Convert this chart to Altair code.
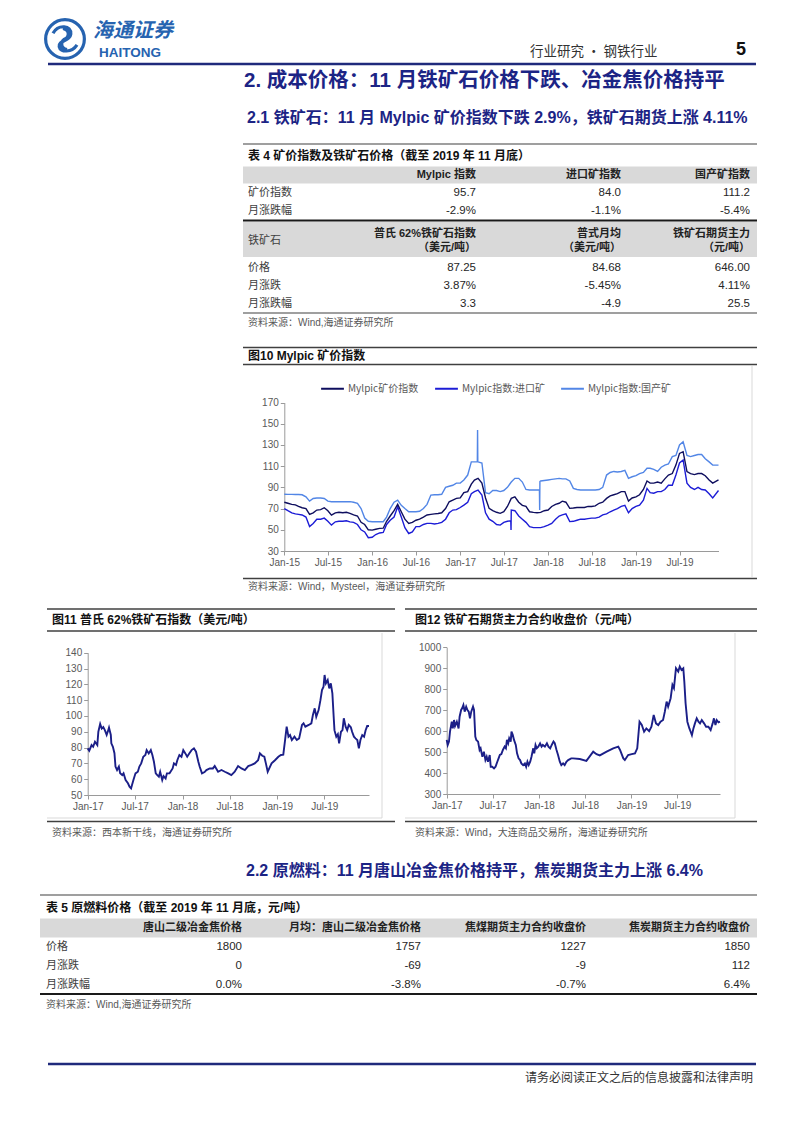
import altair as alt
import pandas as pd

# ---------------------------------------------------------------- data
t4_title = "表 4 矿价指数及铁矿石价格（截至 2019 年 11 月底）"
t4_head1 = ["Mylpic 指数", "进口矿指数", "国产矿指数"]
t4_rows1 = [("矿价指数", ["95.7", "84.0", "111.2"]),
            ("月涨跌幅", ["-2.9%", "-1.1%", "-5.4%"])]
t4_head2_label = "铁矿石"
t4_head2 = [("普氏 62%铁矿石指数", "（美元/吨）"), ("普式月均", "（美元/吨）"), ("铁矿石期货主力", "（元/吨）")]
t4_rows2 = [("价格", ["87.25", "84.68", "646.00"]),
            ("月涨跌", ["3.87%", "-5.45%", "4.11%"]),
            ("月涨跌幅", ["3.3", "-4.9", "25.5"])]

t5_title = "表 5 原燃料价格（截至 2019 年 11 月底，元/吨）"
t5_head = ["唐山二级冶金焦价格", "月均：唐山二级冶金焦价格", "焦煤期货主力合约收盘价", "焦炭期货主力合约收盘价"]
t5_rows = [("价格", ["1800", "1757", "1227", "1850"]),
           ("月涨跌", ["0", "-69", "-9", "112"]),
           ("月涨跌幅", ["0.0%", "-3.8%", "-0.7%", "6.4%"])]

series10 = ["Mylpic矿价指数", "Mylpic指数:进口矿", "Mylpic指数:国产矿"]
colors10 = ["#0e0e5e", "#1c1cd6", "#5286e6"]

# semi-monthly sampling dates (1st and 16th), then the last point
dates10 = [f"{y}-{m:02d}-{d:02d}" for y in range(2015, 2020) for m in range(1, 13) for d in (1, 16)]
dates10 = [d for d in dates10 if d <= "2019-11-16"] + ["2019-12-10"]

mylpic = [76, 75, 74, 73.5, 72, 70.8, 70, 64.5, 66, 68.6, 69, 70.8, 68, 63.8, 66, 66.5, 66, 66.5, 65.5, 64, 63, 57, 55, 50,
          49.7, 50.5, 51.3, 51.5, 58, 63, 68, 74, 67, 60, 56, 57, 59, 60, 62, 64, 64.5, 65, 65.4, 66, 70, 76.4, 78, 79.6,
          80, 85, 86, 93, 96.9, 98.5, 94, 80, 70.2, 68, 66.5, 65.5, 67, 72, 79.6, 81, 76, 73, 72, 67, 66.4, 66, 66.4, 68,
          68.6, 72, 74, 75, 77, 76, 70.2, 70.5, 71, 71, 71, 72, 72, 72.5, 75, 76, 79.6, 82, 83, 84, 86, 86, 77, 80,
          81, 83, 88, 96, 94, 94, 95, 94, 98, 101.6, 103, 111, 122, 123.6, 104.8, 103, 102, 103, 103, 101, 97, 94,
          97]
imported = [70, 68, 66, 65, 64.5, 64, 62, 53, 56, 60, 60, 61, 58, 54.4, 57.5, 58, 58, 58.5, 57.5, 57, 55, 50, 48, 42.5,
            43, 45.5, 47, 47.5, 55, 59, 62, 71.7, 62, 52, 46.5, 48, 53, 53, 55, 56, 56, 55.5, 56, 57, 60, 66, 68.6, 69,
            71, 73.3, 76, 84, 86, 87.5, 82.7, 66, 60, 58, 55, 54.4, 57, 58, 68.6, 68, 63, 60, 57, 53, 52, 52, 52, 53,
            54.4, 56, 60, 63, 64, 65, 57.7, 58, 59, 60, 60, 60.5, 61, 61, 62, 64, 65, 67, 68.6, 70, 72, 73, 66, 70,
            72, 73.3, 78, 89, 85, 84.5, 86, 86, 88, 92, 92, 101.6, 113, 115.8, 94, 90, 88, 90, 88, 87.5, 84, 80,
            87]
domestic = [83.5, 83.4, 83.4, 83.3, 83.2, 83, 81, 77, 79.5, 80, 80, 79.5, 77, 76.5, 76.5, 76.5, 76.5, 76.5, 76.5, 76, 75, 70, 61, 58,
            57.6, 57.6, 57.6, 57.6, 62, 70, 76, 78, 73, 70, 67, 67, 67, 67.5, 70, 74, 82.7, 83, 83, 83.5, 90, 91, 92, 94,
            94, 97, 101.6, 114, 114, 114, 113, 85, 84, 87, 87, 86, 87, 90, 95, 98.5, 98.5, 95, 88, 87.5, 87.5, 87.5, 96, 96.5,
            97, 97.5, 98, 98.5, 98, 98, 96, 89, 88, 87.5, 87.5, 87.5, 87.5, 87.5, 88, 90, 101.6, 104, 105, 104.5, 105, 106, 98.5, 100,
            101, 103, 104, 108, 108, 107, 105, 109, 111, 112, 119, 120, 130, 133, 120, 119, 120, 121, 121, 117, 114, 111,
            111]
# sharp one-day spikes
imported_spike_dates = ["2017-07-30", "2017-07-31"]
imported_spike_vals = [58.5, 49.8]
domestic_spike_dates = ["2017-03-13", "2017-03-14", "2017-03-15", "2017-11-26", "2017-11-27", "2017-11-28"]
domestic_spike_vals = [114, 144, 114, 87.5, 68.6, 95.5]

dates11 = ["2017-01-01", "2017-01-07", "2017-01-16", "2017-01-22", "2017-01-29", "2017-02-07", "2017-02-11", "2017-02-18",
           "2017-02-24", "2017-03-02", "2017-03-08", "2017-03-15", "2017-03-21", "2017-03-24", "2017-03-31", "2017-04-02",
           "2017-04-08", "2017-04-14", "2017-04-18", "2017-04-24", "2017-05-01", "2017-05-06", "2017-05-14", "2017-05-19",
           "2017-05-27", "2017-06-05", "2017-06-11", "2017-06-17", "2017-06-26", "2017-07-04", "2017-07-13", "2017-07-19",
           "2017-07-26", "2017-08-03", "2017-08-11", "2017-08-16", "2017-08-24", "2017-09-01", "2017-09-07", "2017-09-13",
           "2017-09-20", "2017-09-26", "2017-10-02", "2017-10-07", "2017-10-15", "2017-10-20", "2017-10-28", "2017-11-02",
           "2017-11-12", "2017-11-24", "2017-11-29", "2017-12-07", "2017-12-12", "2017-12-20", "2017-12-28", "2018-01-04",
           "2018-01-12", "2018-01-19", "2018-01-27", "2018-02-05", "2018-02-14", "2018-02-22", "2018-03-03", "2018-03-08",
           "2018-03-17", "2018-03-27", "2018-04-03", "2018-04-16", "2018-04-28", "2018-05-05", "2018-05-18", "2018-05-31",
           "2018-06-13", "2018-06-26", "2018-07-08", "2018-07-21", "2018-08-03", "2018-08-16", "2018-08-29", "2018-09-11",
           "2018-09-24", "2018-10-06", "2018-10-19", "2018-10-26", "2018-11-04", "2018-11-12", "2018-11-18", "2018-11-25",
           "2018-12-01", "2018-12-10", "2018-12-23", "2019-01-05", "2019-01-15", "2019-01-24", "2019-01-31", "2019-02-06",
           "2019-02-13", "2019-02-19", "2019-02-26", "2019-03-08", "2019-03-17", "2019-03-26", "2019-04-06", "2019-04-12",
           "2019-04-19", "2019-05-02", "2019-05-12", "2019-05-18", "2019-05-25", "2019-05-31", "2019-06-09", "2019-06-16",
           "2019-06-22", "2019-06-28", "2019-07-02", "2019-07-07", "2019-07-14", "2019-07-20", "2019-07-26", "2019-08-01",
           "2019-08-06", "2019-08-09", "2019-08-16", "2019-08-22", "2019-08-27", "2019-09-03", "2019-09-09", "2019-09-14",
           "2019-09-21", "2019-09-27", "2019-10-03", "2019-10-11", "2019-10-16", "2019-10-23", "2019-10-29", "2019-11-05",
           "2019-11-11", "2019-11-17", "2019-11-24", "2019-12-01", "2019-12-07", "2019-12-13", "2019-12-20"]
vals11 = [79.5, 78, 81.6, 80.5, 83.7, 81.6, 90, 94.9, 92, 93, 91, 88, 91, 92.6, 88, 82.7,
          80.5, 76.4, 68, 65.8, 68, 63.7, 62.6, 63.7, 59.5, 57.4, 55.3, 54.2, 59.5, 63.7, 64.7, 68,
          70, 74.2, 75.3, 78.4, 76.3, 78.4, 75.3, 71, 63.7, 62.6, 61.6, 64.7, 59.5, 62, 60.5, 63.7,
          63.7, 66.8, 70, 69, 72, 75.3, 74.2, 78.4, 76.3, 74.2, 76.3, 78.4, 79.5, 77.4, 71, 68,
          63.7, 64.5, 65.8, 66.8, 66.8, 68.3, 64.7, 65.8, 64.7, 63.7, 62.6, 64.7, 68.3, 66.8, 65.8, 68.3,
          69, 70, 72, 76.3, 74.8, 74.2, 70, 64.7, 66.8, 70, 72, 74.2, 75.3, 75.5, 84.8, 93.2,
          86.9, 87.9, 84.8, 86.9, 84.8, 85.8, 94.3, 95.3, 93.2, 94.3, 95.3, 100.6, 104.8, 99.5, 103.7, 110,
          116.4, 118.5, 125.9, 120.6, 122.7, 117.4, 120.6, 114.3, 99.5, 91, 86.9, 88.5, 82.7, 90, 91, 98.5,
          93.2, 91, 94.3, 92.8, 90, 86.9, 85.8, 84.8, 79.5, 84.8, 87.9, 86.9, 91, 93.6, 93.6]

dates12 = ["2017-01-01", "2017-01-05", "2017-01-10", "2017-01-14", "2017-01-21", "2017-01-25", "2017-01-30", "2017-02-03",
           "2017-02-10", "2017-02-17", "2017-02-21", "2017-02-27", "2017-03-03", "2017-03-08", "2017-03-13", "2017-03-19",
           "2017-03-24", "2017-03-29", "2017-04-03", "2017-04-08", "2017-04-15", "2017-04-19", "2017-04-24", "2017-04-28",
           "2017-05-05", "2017-05-11", "2017-05-15", "2017-05-22", "2017-05-28", "2017-06-03", "2017-06-08", "2017-06-13",
           "2017-06-20", "2017-06-24", "2017-06-30", "2017-07-07", "2017-07-13", "2017-07-20", "2017-07-25", "2017-07-30",
           "2017-08-05", "2017-08-11", "2017-08-18", "2017-08-23", "2017-08-27", "2017-09-01", "2017-09-05", "2017-09-11",
           "2017-09-14", "2017-09-19", "2017-09-24", "2017-10-01", "2017-10-06", "2017-10-12", "2017-10-18", "2017-10-23",
           "2017-10-30", "2017-11-06", "2017-11-11", "2017-11-16", "2017-11-21", "2017-11-27", "2017-12-02", "2017-12-09",
           "2017-12-13", "2017-12-18", "2017-12-23", "2017-12-29", "2018-01-05", "2018-01-11", "2018-01-16", "2018-01-24",
           "2018-02-01", "2018-02-07", "2018-02-14", "2018-02-20", "2018-02-27", "2018-03-04", "2018-03-11", "2018-03-17",
           "2018-03-24", "2018-03-30", "2018-04-06", "2018-04-12", "2018-04-19", "2018-04-26", "2018-05-08", "2018-05-15",
           "2018-06-11", "2018-07-07", "2018-08-03", "2018-08-16", "2018-08-29", "2018-09-25", "2018-10-21", "2018-11-10",
           "2018-11-17", "2018-11-30", "2018-12-06", "2018-12-19", "2019-01-02", "2019-01-15", "2019-01-24", "2019-02-02",
           "2019-02-11", "2019-02-20", "2019-03-01", "2019-03-12", "2019-03-21", "2019-03-30", "2019-04-08", "2019-04-17",
           "2019-04-26", "2019-05-06", "2019-05-13", "2019-05-20", "2019-05-26", "2019-06-05", "2019-06-12", "2019-06-18",
           "2019-06-26", "2019-07-05", "2019-07-11", "2019-07-18", "2019-07-25", "2019-07-29", "2019-08-03", "2019-08-10",
           "2019-08-18", "2019-08-23", "2019-08-28", "2019-09-03", "2019-09-09", "2019-09-16", "2019-09-23", "2019-09-29",
           "2019-10-06", "2019-10-15", "2019-10-23", "2019-11-01", "2019-11-10", "2019-11-18", "2019-11-23", "2019-11-29",
           "2019-12-04", "2019-12-11", "2019-12-17"]
vals12 = [558, 534, 550, 598, 645, 613, 653, 624, 645, 613, 669, 701, 709, 725, 693, 717,
          701, 693, 661, 693, 717, 701, 574, 558, 550, 510, 518, 478, 502, 462, 478, 454,
          486, 430, 430, 422, 430, 454, 470, 486, 490, 510, 526, 518, 558, 542, 566, 550,
          598, 582, 558, 534, 494, 470, 462, 446, 438, 446, 430, 454, 438, 454, 478, 518,
          494, 534, 518, 526, 542, 526, 534, 526, 542, 526, 518, 534, 550, 542, 510, 486,
          454, 438, 446, 438, 454, 462, 470, 470, 467, 458, 502, 490, 484, 502, 518, 526,
          510, 470, 462, 486, 490, 494, 518, 645, 629, 597, 613, 600, 621, 677, 637, 629,
          645, 653, 693, 741, 717, 757, 821, 805, 900, 884, 908, 892, 900, 836, 733, 645,
          613, 597, 581, 613, 637, 661, 645, 637, 653, 637, 621, 621, 605, 637, 661, 629,
          653, 642, 645]

# ---------------------------------------------------------------- layout helpers
W, H = 786, 1117
LAT = "Liberation Sans, Noto Sans CJK SC"
CJK = "Noto Sans CJK SC, Liberation Sans"
NAVY = "#1f2a7c"
HEAD = "#1c2485"
LOGO = "#2663b0"
TXT = "#333333"
SRC = "#595959"


def P(v):
    return v - 8


def xs():
    return alt.Scale(domain=[8, 8 + W], range=[0, W], nice=False, zero=False)


def ys():
    return alt.Scale(domain=[8, 8 + H], range=[0, H], nice=False, zero=False)


def text_layer(rows, align="left", size=11, weight="normal", color=TXT, font=LAT, style="normal"):
    df = pd.DataFrame(rows, columns=["x", "y", "t"])
    return alt.Chart(df).mark_text(align=align, baseline="middle", fontSize=size, fontWeight=weight,
                                   color=color, font=font, fontStyle=style).encode(
        x=alt.X("x:Q", scale=xs(), axis=None),
        y=alt.Y("y:Q", scale=ys(), axis=None),
        text=alt.Text("t:N"))


def rule_layer(rows, color, width):
    df = pd.DataFrame(rows, columns=["x", "y", "x2", "y2"])
    return alt.Chart(df).mark_rule(color=color, strokeWidth=width).encode(
        x=alt.X("x:Q", scale=xs(), axis=None), x2="x2:Q",
        y=alt.Y("y:Q", scale=ys(), axis=None), y2="y2:Q")


def rect_layer(rows, color):
    df = pd.DataFrame(rows, columns=["x", "y", "x2", "y2"])
    return alt.Chart(df).mark_rect(color=color).encode(
        x=alt.X("x:Q", scale=xs(), axis=None), x2="x2:Q",
        y=alt.Y("y:Q", scale=ys(), axis=None), y2="y2:Q")


AXS = dict(grid=False, title=None, domainColor="#9a9a9a", tickColor="#9a9a9a", tickSize=4,
           labelColor=SRC, labelFont="Liberation Sans", labelFontSize=10, domainWidth=1, tickWidth=1,
           labelPadding=2)


def dt(s):
    y, m, d = (int(p) for p in s.split("-"))
    return alt.DateTime(year=y, month=m, date=d)


def time_x(start, end, x0, x1, y_axis_px, first_year, last_year):
    ticks = [alt.DateTime(year=y, month=m, date=1) for y in range(first_year, last_year + 1) for m in (1, 7)]
    return alt.X("date:T",
                 scale=alt.Scale(domain=[dt(start), dt(end)], range=[P(x0), P(x1)], nice=False),
                 axis=alt.Axis(orient="bottom", offset=P(y_axis_px) - H, values=ticks, format="%b-%y",
                               labelFlush=False, labelOverlap=False, **AXS))


def value_y(lo, hi, step, ylo_px, yhi_px, x_axis_px):
    return alt.Y("value:Q",
                 scale=alt.Scale(domain=[lo, hi], range=[P(ylo_px), P(yhi_px)], nice=False, zero=False),
                 axis=alt.Axis(orient="left", offset=-P(x_axis_px), values=list(range(lo, hi + 1, step)),
                               format="d", labelOverlap=False, **AXS))


layers = []

# ---------------------------------------------------------------- figure 10 lines
frames = []
for name, vals in zip(series10, [mylpic, imported, domestic]):
    frames.append(pd.DataFrame({"date": pd.to_datetime(dates10), "value": vals, "series": name}))
frames.append(pd.DataFrame({"date": pd.to_datetime(imported_spike_dates), "value": imported_spike_vals, "series": series10[1]}))
frames.append(pd.DataFrame({"date": pd.to_datetime(domestic_spike_dates), "value": domestic_spike_vals, "series": series10[2]}))
df10 = pd.concat(frames).sort_values(["series", "date"])

fig10 = alt.Chart(df10).mark_line(strokeWidth=1.4).encode(
    x=time_x("2015-01-01", "2019-12-10", 284.3, 718.5, 551, 2015, 2019),
    y=value_y(30, 170, 20, 551, 402.5, 284.3),
    color=alt.Color("series:N", scale=alt.Scale(domain=series10, range=colors10),
                    legend=alt.Legend(orient="none", legendX=P(320), legendY=P(376), direction="horizontal",
                                      title=None, symbolType="stroke", symbolSize=520, symbolStrokeWidth=2,
                                      labelFont=CJK, labelFontSize=10, labelColor=SRC, columnPadding=12,
                                      labelOffset=3, padding=0)),
    detail="series:N")
layers.append(fig10)

df11 = pd.DataFrame({"date": pd.to_datetime(dates11), "value": vals11})
fig11 = alt.Chart(df11).mark_line(strokeWidth=1.9, color="#1b1f88").encode(
    x=time_x("2017-01-01", "2019-12-20", 87.7, 369, 795, 2017, 2019),
    y=value_y(50, 140, 10, 795, 652.7, 87.7))
layers.append(fig11)

df12 = pd.DataFrame({"date": pd.to_datetime(dates12), "value": vals12})
fig12 = alt.Chart(df12).mark_line(strokeWidth=1.9, color="#1b1f88").encode(
    x=time_x("2017-01-01", "2019-12-17", 446.7, 720, 794, 2017, 2019),
    y=value_y(300, 1000, 100, 794, 647.3, 446.7))
layers.append(fig12)

# ---------------------------------------------------------------- bands, rules, frames
layers.append(rect_layer([(243, 166.5, 757, 183.5), (243, 221.5, 757, 257), (40, 918.5, 757, 937.5)], "#d9d9d9"))

layers.append(rule_layer([(48, 64, 756, 64), (48, 1064, 756, 1064)], NAVY, 2.5))
layers.append(rule_layer([(243, 144, 757, 144), (243, 313, 757, 313), (40, 895, 757, 895)], "#7f7f7f", 1.5))
layers.append(rule_layer([(243, 220.5, 757, 220.5), (40, 994, 757, 994)], "#1a1a1a", 2))
layers.append(rule_layer([(243, 347.5, 757, 347.5), (243, 364.5, 757, 364.5), (243, 578.5, 757, 578.5),
                          (47, 609, 395, 609), (47, 631, 395, 631), (47, 821.5, 395, 821.5),
                          (405, 609, 757, 609), (405, 631, 757, 631), (405, 821.5, 757, 821.5)], "#404040", 1.3))
layers.append(rule_layer([(752, 366, 752, 577), (382, 633, 382, 818), (47, 818, 382, 818),
                          (735, 633, 735, 818), (405, 818, 735, 818)], "#d9d9d9", 1))

# ---------------------------------------------------------------- logo and header text
logo_path = ("M -1,0 A 1,1 0 1,1 1,0 A 1,1 0 1,1 -1,0 Z "
             "M -0.62,-0.30 C -0.35,-0.78 0.35,-0.72 0.30,-0.25 C 0.25,0.15 -0.35,0.05 -0.30,0.40 "
             "C -0.25,0.70 0.35,0.72 0.62,0.30 "
             "M -0.10,-0.55 C 0.30,-0.45 0.20,-0.05 -0.05,0.02 "
             "M 0.10,0.55 C -0.30,0.45 -0.20,0.05 0.05,-0.02")
layers.append(alt.Chart(pd.DataFrame({"x": [65], "y": [39]})).mark_point(
    shape=logo_path, filled=False, size=1500, strokeWidth=3.2, color=LOGO, opacity=1).encode(
    x=alt.X("x:Q", scale=xs(), axis=None), y=alt.Y("y:Q", scale=ys(), axis=None)))
layers.append(text_layer([(93, 31, "海通证券")], size=20, weight="bold", color=LOGO, font=CJK, style="italic"))
layers.append(text_layer([(99, 53, "HAITONG")], size=13.5, weight="bold", color=LOGO, font="Liberation Sans"))
layers.append(text_layer([(530, 51.5, "行业研究 · 钢铁行业")], size=13.5, color=TXT, font=CJK))
layers.append(text_layer([(736, 50, "5")], size=18, weight="bold", color="#111111", font="Liberation Sans"))

layers.append(text_layer([(244, 81, "2. 成本价格：11 月铁矿石价格下跌、冶金焦价格持平")], size=20.5, weight="bold", color=HEAD))
layers.append(text_layer([(247, 117.7, "2.1 铁矿石：11 月 Mylpic 矿价指数下跌 2.9%，铁矿石期货上涨 4.11%"),
                          (246, 871, "2.2 原燃料：11 月唐山冶金焦价格持平，焦炭期货主力上涨 6.4%")],
                         size=16, weight="bold", color=HEAD))

# ---------------------------------------------------------------- table 4 / table 5
c4 = [476, 621, 750]
layers.append(text_layer([(248, 155.5, t4_title), (46, 907.5, t5_title),
                          (248, 356, "图10 Mylpic 矿价指数"),
                          (52, 620, "图11 普氏 62%铁矿石指数（美元/吨）"),
                          (415, 620, "图12 铁矿石期货主力合约收盘价（元/吨）")],
                         size=12, weight="bold", color="#111111"))
head_rows = [(c, 175, h) for c, h in zip(c4, t4_head1)]
head_rows += [(c, 233.5, a) for c, (a, b) in zip(c4, t4_head2)]
head_rows += [(c, 247.5, b) for c, (a, b) in zip(c4, t4_head2)]
c5 = [242, 421, 586, 750]
head_rows += [(c, 928.3, h) for c, h in zip(c5, t5_head)]
layers.append(text_layer(head_rows, align="right", size=11, weight="bold", color="#222222"))

label_rows, value_rows = [], []
for (lab, vals), y in zip(t4_rows1, [193, 211]):
    label_rows.append((248, y, lab))
    value_rows += [(c, y, v) for c, v in zip(c4, vals)]
label_rows.append((248, 240.5, t4_head2_label))
for (lab, vals), y in zip(t4_rows2, [267.5, 285.5, 303.5]):
    label_rows.append((248, y, lab))
    value_rows += [(c, y, v) for c, v in zip(c4, vals)]
for (lab, vals), y in zip(t5_rows, [946.7, 966, 984.7]):
    label_rows.append((46, y, lab))
    value_rows += [(c, y, v) for c, v in zip(c5, vals)]
layers.append(text_layer(label_rows, size=11, color="#404040", font=CJK))
layers.append(text_layer(value_rows, align="right", size=11.5, color="#262626"))

# ---------------------------------------------------------------- sources and footer
layers.append(text_layer([(248, 323, "资料来源：Wind,海通证券研究所"),
                          (248, 587, "资料来源：Wind，Mysteel，海通证券研究所"),
                          (52, 832.7, "资料来源：西本新干线，海通证券研究所"),
                          (415, 832.7, "资料来源：Wind，大连商品交易所，海通证券研究所"),
                          (46, 1005, "资料来源：Wind,海通证券研究所")],
                         size=10, color=SRC))
layers.append(text_layer([(753, 1078, "请务必阅读正文之后的信息披露和法律声明")], align="right", size=12, color=TXT, font=CJK))

chart = alt.layer(*layers).resolve_scale(x="independent", y="independent", color="independent").properties(
    width=W, height=H, autosize=alt.AutoSizeParams(type="none"), padding=0, background="white"
).configure_view(stroke=None)

chart.save("out.html", embed_options={"renderer": "svg", "actions": False})
